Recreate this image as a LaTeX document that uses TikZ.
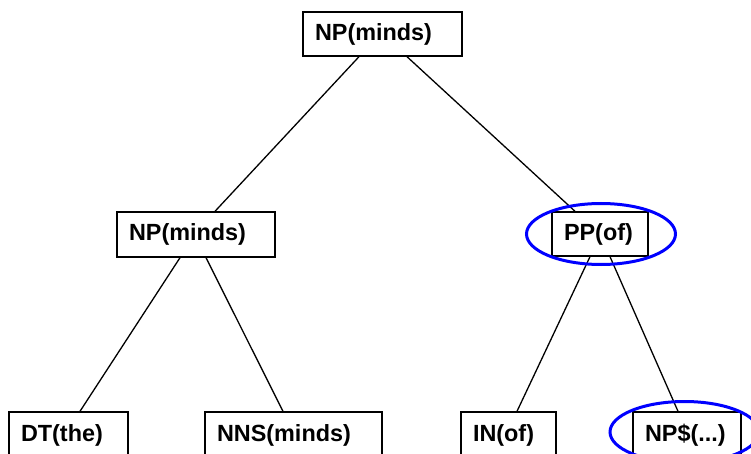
\documentclass[tikz,border=0pt]{standalone}
\usepackage{fontspec}
\setmainfont{Liberation Sans}
\begin{document}
\begin{tikzpicture}[x=1pt,y=-1pt,
  cat/.style={draw=black, line width=1.4pt, fill=white, rectangle,
    inner xsep=12pt, inner ysep=0pt, align=left,
    font=\fontsize{23.4}{26}\selectfont\bfseries},
  edge/.style={draw=black, line width=1.3pt},
  hl/.style={draw=blue, line width=3pt}]
\useasboundingbox (0,0) rectangle (751,454);
\clip (0,0) rectangle (751,454);

% tree nodes
\node[cat, text width=135pt, minimum height=44pt] (root) at (382.5,34) {NP(minds)};
\node[cat, text width=134pt, minimum height=45pt] (npl) at (196,234.5) {NP(minds)};
\node[cat, text width=72pt,  minimum height=44pt] (pp)  at (600,234) {PP(of)};
\node[cat, text width=95pt,  minimum height=46pt] (dt)  at (68.5,435) {DT(the)};
\node[cat, text width=153pt, minimum height=46pt] (nns) at (293.5,435) {NNS(minds)};
\node[cat, text width=71pt,  minimum height=46pt] (in)  at (508.5,435) {IN(of)};
\node[cat, text width=84pt,  minimum height=46pt] (np2) at (687,435) {NP\$(...)};

% branches
\draw[edge] ([xshift=-23.5pt]root.south) -- ([xshift=19pt]npl.north);
\draw[edge] ([xshift=24.5pt]root.south) -- ([xshift=-25pt]pp.north);
\draw[edge] ([xshift=-16pt]npl.south) -- ([xshift=11.5pt]dt.north);
\draw[edge] ([xshift=10pt]npl.south) -- ([xshift=-10.5pt]nns.north);
\draw[edge] ([xshift=-10pt]pp.south) -- ([xshift=8.5pt]in.north);
\draw[edge] ([xshift=10pt]pp.south) -- ([xshift=-9pt]np2.north);

% highlight rings
\draw[hl] ([xshift=1pt]pp.center) ellipse [x radius=74.5pt, y radius=30.5pt];
\draw[hl] (684.5,432) ellipse [x radius=74.5pt, y radius=30.5pt];
\end{tikzpicture}
\end{document}
